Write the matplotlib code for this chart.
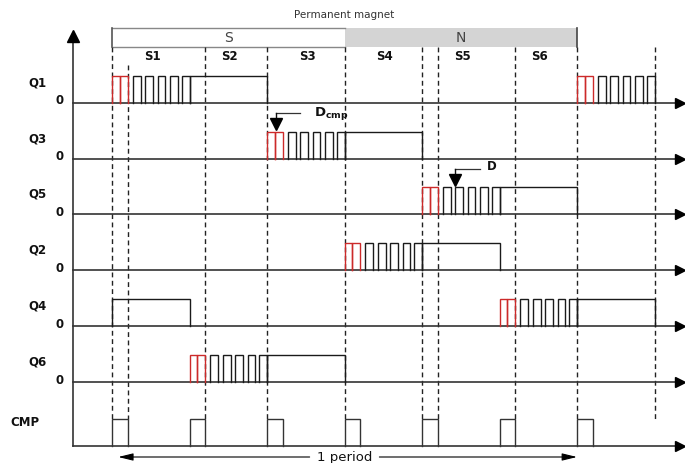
import matplotlib
matplotlib.use("Agg")
import matplotlib.pyplot as plt
from matplotlib.patches import Rectangle

# ---------------- data ----------------
title_text = "Permanent magnet"
pole_labels = ["S", "N"]
pole_spans = [(0, 3), (3, 6)]            # in sector units
sector_labels = ["S1", "S2", "S3", "S4", "S5", "S6"]
phase_labels = ["Q1", "Q3", "Q5", "Q2", "Q4", "Q6"]
pwm_sector = [0, 2, 4, 3, 5, 1]           # sector where each switch starts PWM
red_pulses = [(0.0, 0.1), (0.1, 0.2)]     # relative to PWM start
black_pulses = [(0.27, 0.37), (0.43, 0.53), (0.59, 0.69), (0.75, 0.85), (0.90, 1.0)]
hold_interval = (1.0, 2.0)                # continuous on-state
period = 6
cmp_times = [0, 1, 2, 3, 4, 5, 6]
cmp_width = 0.2
dashed_times = [0, 0.2, 1.2, 2, 3, 4, 4.2, 5.2, 6, 7]
t_end = 7.0

# ---------------- layout ----------------
PX_PER_T = 77.5
X0 = 112.0
W, H = 685, 463
row_base = [103, 158.5, 214, 270, 326, 382]
cmp_base = 446
pulse_h = 27
axis_x = (73 - X0) / PX_PER_T
arrow_x = (680 - X0) / PX_PER_T
qlab_x = (28 - X0) / PX_PER_T
zero_x = (59.5 - X0) / PX_PER_T
cmp_lab_x = (10 - X0) / PX_PER_T

fig = plt.figure(figsize=(W / 100, H / 100), dpi=100)
ax = fig.add_axes([0, 0, 1, 1])
ax.set_xlim(-X0 / PX_PER_T, (W - X0) / PX_PER_T)
ax.set_ylim(H, 0)
ax.axis("off")

wave_col = "#1a1a1a"
red_col = "#cc2a2a"
base_col = "#333333"
lab_font = dict(family="DejaVu Sans", fontweight="bold", fontsize=8.5, color="#111111")


def pulse(a, b, y0, color, lw=1.0):
    ax.plot([a, a, b, b], [y0, y0 - pulse_h, y0 - pulse_h, y0], color=color, lw=lw,
            solid_joinstyle="miter", zorder=3)


# header
ax.text(3.0, 15, title_text, ha="center", va="center", fontsize=7.5, color="#333333")
for lab, (a, b) in zip(pole_labels, pole_spans):
    if lab == "N":
        ax.add_patch(Rectangle((a, 28), b - a, 19, facecolor="#d4d4d4", edgecolor="none", zorder=1))
        ax.plot([b, b], [28, 47], color="#444444", lw=1.2, zorder=2)
    else:
        ax.plot([a, b], [28, 28], color="#888888", lw=1.0, zorder=2)
        ax.plot([a, a], [28, 47], color="#555555", lw=1.2, zorder=2)
        ax.plot([a, b], [47, 47], color="#888888", lw=1.0, zorder=2)
    ax.text((a + b) / 2, 37.5, lab, ha="center", va="center", fontsize=10, color="#444444")

for i, lab in enumerate(sector_labels):
    ax.text(i + 0.52, 57, lab, ha="center", va="center", **lab_font)

# dashed sector lines
for t in dashed_times:
    top = 65 if abs(t - 0.2) < 1e-9 else 47
    ax.plot([t, t], [top, 419], color="#222222", lw=1.0, ls=(0, (3.5, 2.5)), zorder=2)

# vertical axis
ax.plot([axis_x, axis_x], [cmp_base, 38], color=base_col, lw=1.2, zorder=2)
ax.plot([axis_x], [36], marker="^", markersize=9, color="black", zorder=4)

# baselines and waveforms
for lab, s, y0 in zip(phase_labels, pwm_sector, row_base):
    ax.plot([axis_x, arrow_x], [y0, y0], color=base_col, lw=1.2, zorder=2)
    ax.plot([arrow_x], [y0], marker=">", markersize=7, color="black", zorder=4)
    ax.text(qlab_x, y0 - 20, lab, ha="left", va="center", **lab_font)
    ax.text(zero_x, y0 - 2, "0", ha="center", va="center", **lab_font)
    for k in (-1, 0, 1):
        start = s + k * period
        segs = [(start + a, start + b, red_col) for a, b in red_pulses]
        segs += [(start + a, start + b, wave_col) for a, b in black_pulses]
        segs.append((start + hold_interval[0], start + hold_interval[1], wave_col))
        for a, b, c in segs:
            if b <= 0 or a >= t_end:
                continue
            pulse(max(a, 0), min(b, t_end), y0, c)

# CMP row
ax.plot([axis_x, arrow_x], [cmp_base, cmp_base], color=base_col, lw=1.2, zorder=2)
ax.plot([arrow_x], [cmp_base], marker=">", markersize=7, color="black", zorder=4)
ax.text(cmp_lab_x, cmp_base - 23, "CMP", ha="left", va="center", **lab_font)
for t in cmp_times:
    pulse(t, t + cmp_width, cmp_base, "#333333")

# D_cmp marker (Q3 row)
y3 = row_base[1]
xa = pwm_sector[1] + 0.12
ax.plot([xa, 2.43], [y3 - 46, y3 - 46], color="#333333", lw=0.9)
ax.plot([xa, xa], [y3 - 46, y3 - 38], color="#111111", lw=1.0)
ax.plot([xa], [y3 - 35], marker="v", markersize=8, color="black", zorder=5)
ax.text(2.6, y3 - 45, r"$\mathbf{D_{cmp}}$", ha="left", va="center", fontsize=9.5, color="#111111")

# D marker (Q5 row)
y5 = row_base[2]
xd = pwm_sector[2] + 0.43
ax.plot([xd, 4.75], [y5 - 45, y5 - 45], color="#333333", lw=0.9)
ax.plot([xd, xd], [y5 - 45, y5 - 37], color="#111111", lw=1.0)
ax.plot([xd], [y5 - 34], marker="v", markersize=8, color="black", zorder=5)
ax.text(4.9, y5 - 47, "D", ha="center", va="center", **lab_font)

# period arrow
yp = 457
ax.text(3.0, yp, "1 period", ha="center", va="center", fontsize=9.5, color="#111111")
ax.annotate("", xy=(0.08, yp), xytext=(2.55, yp),
            arrowprops=dict(arrowstyle="-|>,head_length=0.9,head_width=0.22",
                            color="black", lw=0.8, shrinkA=0, shrinkB=0))
ax.annotate("", xy=(6.0, yp), xytext=(3.45, yp),
            arrowprops=dict(arrowstyle="-|>,head_length=0.9,head_width=0.22",
                            color="black", lw=0.8, shrinkA=0, shrinkB=0))

fig.savefig("out.png", dpi=100)
